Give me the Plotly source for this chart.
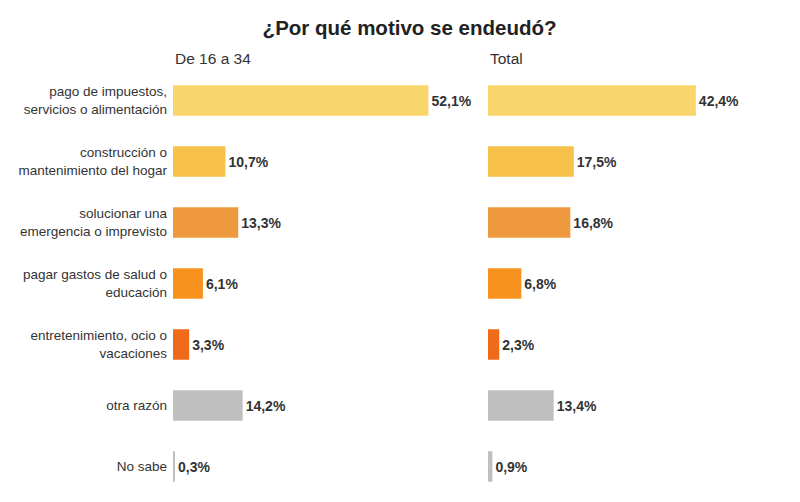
import plotly.graph_objects as go
from plotly.subplots import make_subplots

# data
motivos = [
    "pago de impuestos,<br>servicios o alimentación",
    "construcción o<br>mantenimiento del hogar",
    "solucionar una<br>emergencia o imprevisto",
    "pagar gastos de salud o<br>educación",
    "entretenimiento, ocio o<br>vacaciones",
    "otra razón",
    "No sabe",
]
de16a34 = [52.1, 10.7, 13.3, 6.1, 3.3, 14.2, 0.3]
total = [42.4, 17.5, 16.8, 6.8, 2.3, 13.4, 0.9]
colores = ["#F9D66B", "#F8C14A", "#EF9A3E", "#F7921E", "#EF6B1A", "#BFBFBF", "#BFBFBF"]


def etiqueta(v):
    return ("%.1f%%" % v).replace(".", ",")


fuente = "Liberation Sans, Arial"

fig = make_subplots(rows=1, cols=2, shared_yaxes=True, horizontal_spacing=0.021)

fig.add_trace(go.Bar(y=motivos, x=de16a34, orientation="h", marker=dict(color=colores),
                     text=[etiqueta(v) for v in de16a34], textposition="outside",
                     cliponaxis=False), row=1, col=1)
fig.add_trace(go.Bar(y=motivos, x=total, orientation="h", marker=dict(color=colores),
                     text=[etiqueta(v) for v in total], textposition="outside",
                     cliponaxis=False), row=1, col=2)

fig.update_traces(textfont=dict(family=fuente, size=14, color="#333333"),
                  texttemplate="<b>%{text}</b>", marker_line_width=0, hoverinfo="skip")

fig.update_xaxes(range=[0, 61.6], visible=False)
fig.update_yaxes(autorange="reversed", showgrid=False, zeroline=False, showline=False,
                 ticks="", ticklabelstandoff=5,
                 tickfont=dict(family=fuente, size=13.5, color="#333333"))

fig.add_annotation(text="De 16 a 34", xref="x domain", yref="paper", x=0, y=1.026,
                   xanchor="left", yanchor="middle", showarrow=False,
                   font=dict(family=fuente, size=15.5, color="#333333"))
fig.add_annotation(text="Total", xref="x2 domain", yref="paper", x=0, y=1.026,
                   xanchor="left", yanchor="middle", showarrow=False,
                   font=dict(family=fuente, size=15.5, color="#333333"))

# the page adds 8px of body margin, so the figure is 8px smaller
fig.update_layout(
    title=dict(text="<b>¿Por qué motivo se endeudó?</b>", x=0.507, xanchor="center",
               y=0.9595, yanchor="middle",
               font=dict(family=fuente, size=20.5, color="#222222")),
    width=792, height=494,
    margin=dict(l=165, r=10, t=62, b=5),
    bargap=0.5,
    showlegend=False,
    plot_bgcolor="white", paper_bgcolor="white",
)

fig.write_html("out.html")
